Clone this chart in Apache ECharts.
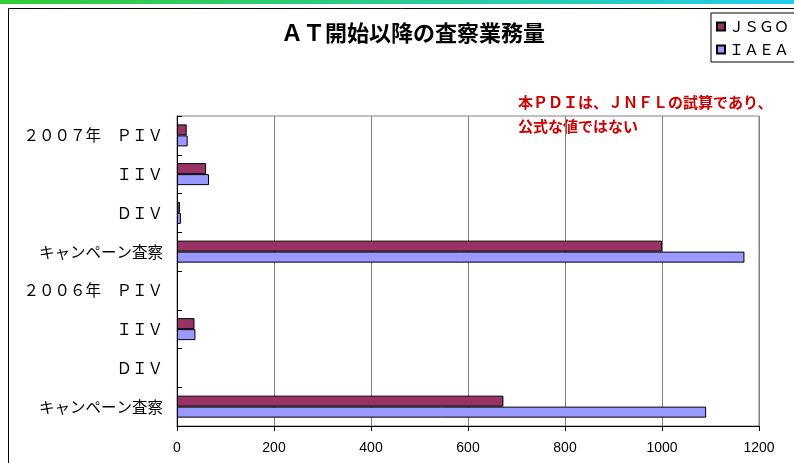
<!DOCTYPE html>
<html>
<head>
<meta charset="utf-8">
<script src="https://cdn.jsdelivr.net/npm/echarts@6/dist/echarts.min.js"></script>
<style>
	html, body { margin: 0; padding: 0; background: #fff; }
	#main { width: 794px; height: 463px; }
</style>
</head>
<body>
<div id="main"></div>
<script>
'use strict';

// categories from bottom to top (category axis runs upward)
const categories = ['c2006', 'd2006', 'i2006', 'p2006', 'c2007', 'd2007', 'i2007', 'p2007'];
const tickLabels = ['キャンペーン査察', 'ＤＩＶ', 'ＩＩＶ', '２００６年　ＰＩＶ',
	'キャンペーン査察', 'ＤＩＶ', 'ＩＩＶ', '２００７年　ＰＩＶ'];
const jsgoValues = [673, 0, 36, 0, 1000, 6, 60, 20];
const iaeaValues = [1091, 0, 38, 0, 1170, 8, 66, 22];
const xTicks = [0, 200, 400, 600, 800, 1000, 1200];

const jpFont = '"Noto Sans CJK JP", sans-serif';

// empty cells in the source sheet: no bar drawn
function toBars(values) {
	return values.map(function(v) { return v === 0 ? '-' : v; });
}

var myChart = echarts.init(document.getElementById('main'));

var option = {
	animation: false,
	backgroundColor: '#fff',
	title: {
		text: 'ＡＴ開始以降の査察業務量',
		left: 276,
		top: 17,
		textStyle: {
			fontFamily: jpFont,
			fontSize: 22,
			fontWeight: 'bold',
			color: '#000'
		}
	},
	legend: {
		orient: 'vertical',
		right: -40,
		top: 13,
		padding: [6, 45, 5, 5],
		itemGap: 8,
		itemWidth: 8,
		itemHeight: 8,
		borderColor: '#000',
		borderWidth: 1,
		icon: 'rect',
		textStyle: {
			fontFamily: jpFont,
			fontSize: 15,
			color: '#000',
			padding: [0, 0, 0, -1]
		},
		data: ['ＪＳＧＯ', 'ＩＡＥＡ']
	},
	grid: {
		left: 177,
		right: 35,
		top: 116,
		bottom: 37,
		show: true,
		borderColor: '#808080',
		borderWidth: 1
	},
	xAxis: {
		type: 'value',
		min: xTicks[0],
		max: xTicks[xTicks.length - 1],
		interval: 200,
		axisLine: { show: true, lineStyle: { color: '#000', width: 1 } },
		axisTick: { show: true, length: 5, lineStyle: { color: '#000' } },
		axisLabel: {
			margin: 15,
			fontFamily: 'Liberation Sans, Arial, sans-serif',
			fontSize: 14,
			color: '#000',
			formatter: function(value) {
				return String(value);
			}
		},
		splitLine: { show: true, lineStyle: { color: '#808080', width: 1 } }
	},
	yAxis: {
		type: 'category',
		data: categories,
		axisLine: { show: true, lineStyle: { color: '#000', width: 1 } },
		axisTick: { show: true, inside: true, length: 5, lineStyle: { color: '#000' } },
		axisLabel: {
			margin: 14,
			fontFamily: jpFont,
			fontSize: 15.5,
			color: '#000',
			formatter: function(value, index) {
				return tickLabels[index];
			}
		},
		splitLine: { show: false }
	},
	series: [
		{
			name: 'ＪＳＧＯ',
			type: 'bar',
			data: toBars(jsgoValues),
			barWidth: 11,
			barGap: '0%',
			itemStyle: { color: '#993366', borderColor: '#000', borderWidth: 1 }
		},
		{
			name: 'ＩＡＥＡ',
			type: 'bar',
			data: toBars(iaeaValues),
			barWidth: 11,
			barGap: '0%',
			itemStyle: { color: '#9999FF', borderColor: '#000', borderWidth: 1 }
		}
	],
	graphic: [
		{
			type: 'rect',
			left: 0,
			top: 0,
			shape: { width: 794, height: 4 },
			style: {
				fill: new echarts.graphic.LinearGradient(0, 0, 1, 0, [
					{ offset: 0, color: '#33cc33' },
					{ offset: 1, color: '#22ccee' }
				])
			}
		},
		{
			type: 'polyline',
			shape: { points: [[8.5, 463], [8.5, 8.5], [794, 8.5]] },
			style: { stroke: '#000', lineWidth: 1, fill: null }
		},
		{
			type: 'text',
			left: 518,
			top: 90,
			style: {
				text: '本ＰＤＩは、ＪＮＦＬの試算であり、\n公式な値ではない',
				fontFamily: jpFont,
				fontSize: 15,
				fontWeight: 'bold',
				lineHeight: 24,
				fill: '#cc0000'
			}
		}
	]
};

myChart.setOption(option);
</script>
</body>
</html>
